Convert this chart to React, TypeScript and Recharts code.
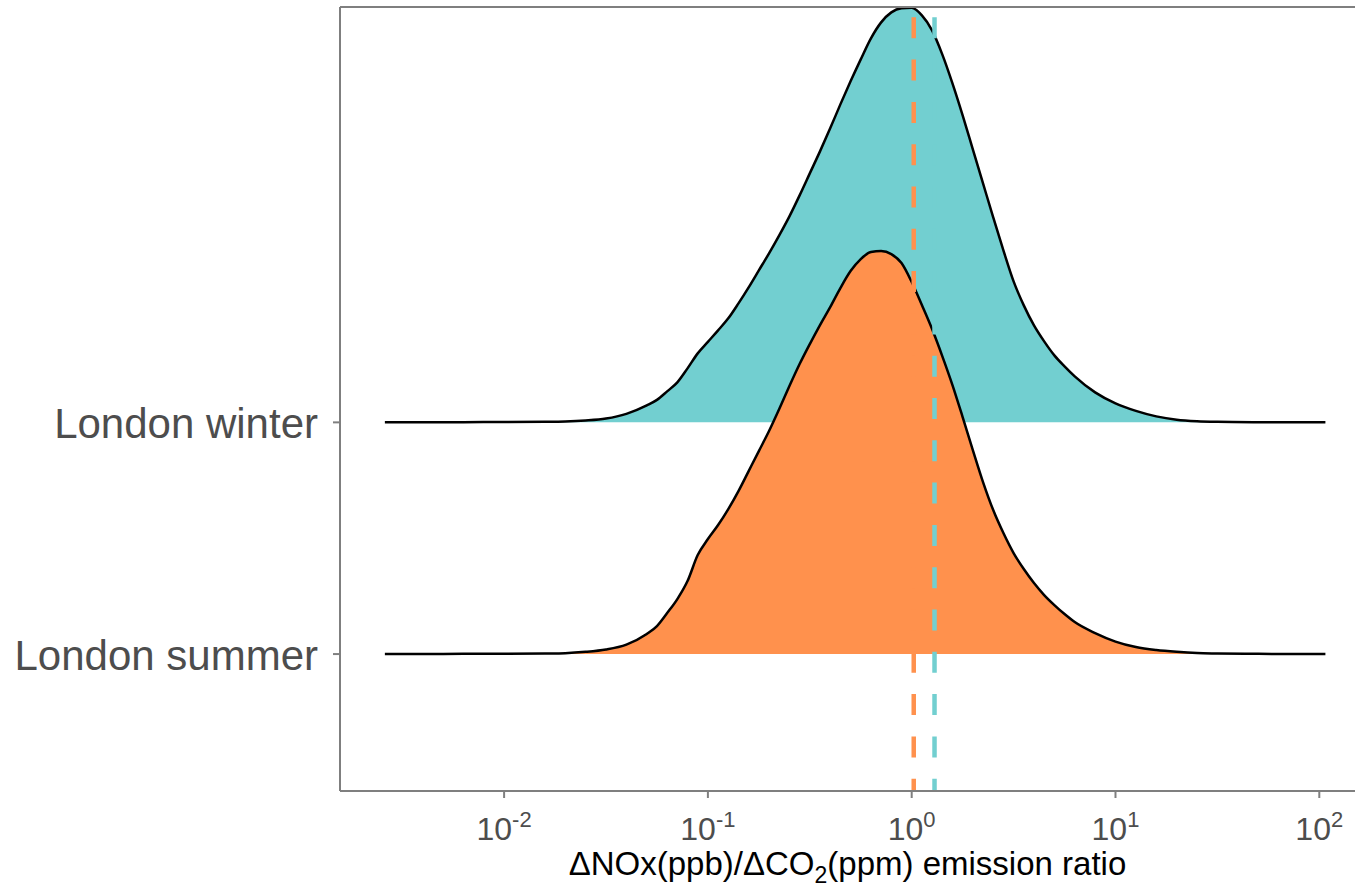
import React from 'react';
import { ComposedChart, Area, XAxis, YAxis, ReferenceLine } from 'recharts';

// log10 of the emission ratio (x positions of the density estimate)
const logRatio = [
  -2.585, -2.4, -2.2, -2.0, -1.8, -1.7, -1.6, -1.5, -1.4, -1.3, -1.25, -1.2, -1.15, -1.1, -1.05,
  -1.0, -0.95, -0.9, -0.85, -0.8, -0.75, -0.7, -0.65, -0.6, -0.55, -0.5, -0.45, -0.4, -0.35,
  -0.3, -0.25, -0.2, -0.15, -0.1, -0.05, 0, 0.05, 0.1, 0.15, 0.2, 0.25, 0.3, 0.35, 0.4, 0.45,
  0.5, 0.55, 0.6, 0.65, 0.7, 0.75, 0.8, 0.9, 1.0, 1.1, 1.2, 1.3, 1.4, 1.5, 1.7, 2.03,
];

// ridge heights (density, arbitrary units) for London winter
const winterDensity = [
  0, 0.1, 0.2, 0.3, 0.5, 0.8, 1.8, 3.8, 8.5, 17, 22.5, 31, 40, 54, 69,
  80.5, 92, 104, 119, 135, 152, 169, 187, 206, 227, 249, 271, 294, 318,
  341, 363, 384, 400, 410, 414, 414.5, 407, 392, 368, 339, 307, 273, 239, 205, 172,
  141, 117, 97, 81, 67, 56, 46, 30, 19, 11.5, 6, 2.7, 1.2, 0.6, 0.2, 0,
];

// ridge heights (density, arbitrary units) for London summer
const summerDensity = [
  0, 0.1, 0.2, 0.3, 0.6, 0.9, 2.2, 4.6, 9.5, 20, 28, 41, 55, 73, 99,
  115, 129, 145, 163, 183, 203, 223, 245, 268, 290, 310, 329, 347, 366,
  383, 395, 402, 403, 400, 391, 372, 349, 325, 298, 269, 237, 204, 172, 144, 121,
  101, 85, 71, 59, 49, 40, 32, 21, 12.5, 7, 4, 2.2, 1, 0.6, 0.2, 0,
];

const categories = ['London summer', 'London winter'];
const categoryRows = [1, 2];
const xTickExponents = [-2, -1, 0, 1, 2];
// log10 of the mean ratios (dashed lines)
const summerMeanLog = 0.01;
const winterMeanLog = 0.112;

// ridge scale: density units per row spacing
const DENSITY_PER_ROW = 231.7;

const WINTER_COLOR = '#72CFD0';
const SUMMER_COLOR = '#FF914D';
const AXIS_COLOR = '#7F7F7F';
const TEXT_COLOR = '#4D4D4D';
const FONT = '"Liberation Sans", Arial, Helvetica, sans-serif';

const Y_MIN = 0.409;
const Y_MAX = 3.7927;
const X_MIN = -2.8052;
const X_MAX = 2.1752;

const tableData = logRatio.map((lx, i) => ({
  lx,
  winter: categoryRows[1] + winterDensity[i] / DENSITY_PER_ROW,
  summer: categoryRows[0] + summerDensity[i] / DENSITY_PER_ROW,
}));

const XTick = (props: any) => {
  const { x, y, payload } = props;
  return (
    <text x={x} y={y + 42} textAnchor="middle" fill={TEXT_COLOR} fontFamily={FONT} fontSize={32}>
      <tspan>10</tspan>
      <tspan dy={-13} fontSize={22}>{String(payload.value)}</tspan>
    </text>
  );
};

const YTick = (props: any) => {
  const { x, y, payload } = props;
  const idx = categoryRows.indexOf(payload.value);
  return (
    <text x={x} y={y + 16} textAnchor="end" fill={TEXT_COLOR} fontFamily={FONT} fontSize={42}>
      {categories[idx]}
    </text>
  );
};

const XTitle = (props: any) => {
  const vb = props.viewBox || {};
  const cx = (vb.x ?? 340) + (vb.width ?? 1015) / 2;
  return (
    <text x={cx} y={875} textAnchor="middle" fill="#000000" fontFamily={FONT} fontSize={33}>
      <tspan>ΔNOx(ppb)/ΔCO</tspan>
      <tspan dy={8} fontSize={23}>2</tspan>
      <tspan dy={-8}>(ppm) emission ratio</tspan>
    </text>
  );
};

const dashedShape = (color: string) => (p: any) => {
  const top = Math.min(p.y1, p.y2);
  const bottom = Math.max(p.y1, p.y2);
  return (
    <line
      x1={p.x1}
      x2={p.x2}
      y1={top}
      y2={bottom}
      stroke={color}
      strokeWidth={4.5}
      strokeDasharray="21 21.3"
      strokeDashoffset={32}
    />
  );
};

export default function App() {
  return (
    <div style={{ position: 'absolute', left: 0, top: 0, width: 1355, height: 887, background: '#fff' }}>
      <ComposedChart
        width={1355}
        height={887}
        data={tableData}
        margin={{ top: 7, right: 0, bottom: 0, left: 0 }}
      >
        <XAxis
          dataKey="lx"
          type="number"
          domain={[X_MIN, X_MAX]}
          allowDataOverflow
          ticks={xTickExponents}
          interval={0}
          height={96}
          tickSize={7}
          tickMargin={0}
          stroke={AXIS_COLOR}
          strokeWidth={2}
          tickLine={{ stroke: AXIS_COLOR, strokeWidth: 2 }}
          tick={<XTick />}
          label={<XTitle />}
        />
        <YAxis
          type="number"
          domain={[Y_MIN, Y_MAX]}
          allowDataOverflow
          ticks={categoryRows}
          interval={0}
          width={340}
          tickSize={7}
          tickMargin={15}
          stroke={AXIS_COLOR}
          strokeWidth={2}
          tickLine={{ stroke: AXIS_COLOR, strokeWidth: 2 }}
          tick={<YTick />}
        />
        <ReferenceLine y={Y_MAX} stroke={AXIS_COLOR} strokeWidth={2} ifOverflow="extendDomain" />
        <Area
          type="monotone"
          dataKey="winter"
          baseValue={categoryRows[1]}
          fill={WINTER_COLOR}
          fillOpacity={1}
          stroke="#000000"
          strokeWidth={2.5}
          dot={false}
          activeDot={false}
          isAnimationActive={false}
        />
        <Area
          type="monotone"
          dataKey="summer"
          baseValue={categoryRows[0]}
          fill={SUMMER_COLOR}
          fillOpacity={1}
          stroke="#000000"
          strokeWidth={2.5}
          dot={false}
          activeDot={false}
          isAnimationActive={false}
        />
        <ReferenceLine x={summerMeanLog} stroke={SUMMER_COLOR} shape={dashedShape(SUMMER_COLOR)} />
        <ReferenceLine x={winterMeanLog} stroke={WINTER_COLOR} shape={dashedShape(WINTER_COLOR)} />
      </ComposedChart>
    </div>
  );
}
